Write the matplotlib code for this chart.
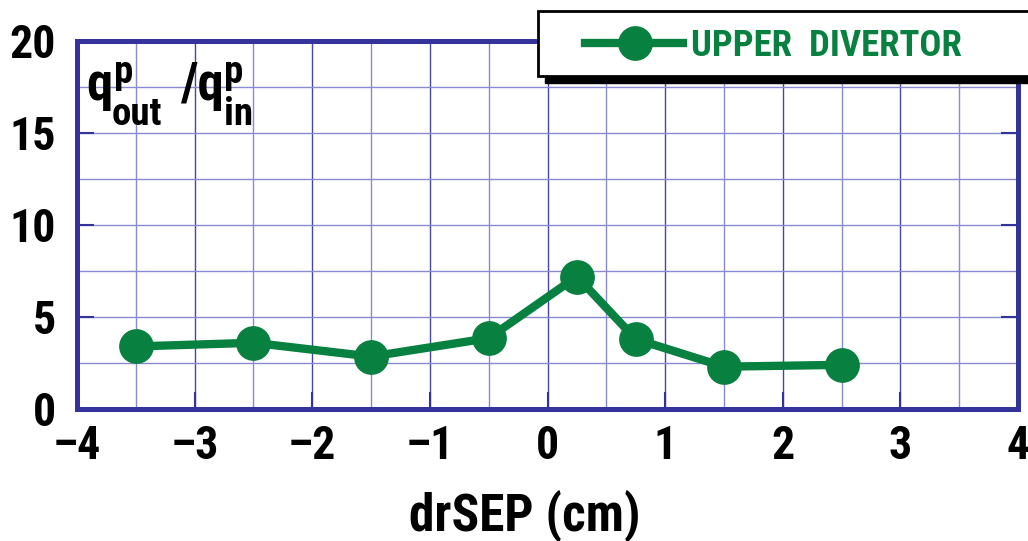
import matplotlib
matplotlib.use("Agg")
import matplotlib.pyplot as plt
from matplotlib.patches import Rectangle
from matplotlib.lines import Line2D

plt.rcParams['font.family'] = ['Roboto Condensed', 'DejaVu Sans']
plt.rcParams['font.stretch'] = 'condensed'
plt.rcParams['font.weight'] = 'bold'

# data
dr_sep = [-3.5, -2.5, -1.5, -0.5, 0.25, 0.75, 1.5, 2.5]
q_ratio = [3.4, 3.6, 2.85, 3.85, 7.2, 3.8, 2.3, 2.4]
x_ticks = [-4, -3, -2, -1, 0, 1, 2, 3, 4]
y_ticks = [0, 5, 10, 15, 20]
series_name = "UPPER  DIVERTOR"

green = '#078040'
navy = '#333399'
W, H = 1028.0, 541.0

fig = plt.figure(figsize=(10.28, 5.41), dpi=100)
ax = fig.add_axes([77 / W, 132 / H, 941 / W, 368 / H])

# grid: darker at whole cm, lighter at half cm
for x in [v / 2 for v in range(-8, 9)]:
    c = '#4646a8' if x == int(x) else '#8a8ad0'
    ax.axvline(x, color=c, lw=1.0, zorder=1)
for y in [v * 2.5 for v in range(9)]:
    ax.axhline(y, color='#8a8ad0', lw=1.0, zorder=1)

ax.plot(dr_sep, q_ratio, color=green, lw=6, marker='o', ms=24, zorder=3, clip_on=False)

ax.set_xlim(-4, 4)
ax.set_ylim(0, 20)
ax.set_xticks(x_ticks)
ax.set_yticks(y_ticks)
ax.set_xticklabels(['\u2013%d' % -v if v < 0 else '%d' % v for v in x_ticks])
ax.tick_params(axis='both', direction='in', length=12, width=1.5, color=navy, labelsize=33)
ax.tick_params(axis='x', pad=11)
ax.tick_params(axis='y', right=True, pad=15)

for s in ax.spines.values():
    s.set_color(navy)
    s.set_linewidth(3.6)

fig.text(525 / W, (H - 530) / H, 'drSEP (cm)', fontsize=37, ha='center', va='baseline')

# y label q^p_out / q^p_in, placed piece by piece
def put(px, py, s, size):
    fig.text(px / W, (H - py) / H, s, fontsize=size, ha='left', va='baseline', zorder=4)

put(86, 100, 'q', 38)
put(114, 83, 'p', 28)
put(112, 125, 'out', 28)
put(180, 100, '/q', 38)
put(224, 83, 'p', 28)
put(224, 125, 'in', 28)

# legend box with shadow, running off the right edge
bx, by, bw, bh = 538 / W, (H - 76) / H, 520 / W, 65 / H
fig.patches.append(Rectangle((bx + 7 / W, by - 7 / H), bw, bh, transform=fig.transFigure,
                             facecolor='black', edgecolor='black', zorder=5))
fig.patches.append(Rectangle((bx, by), bw, bh, transform=fig.transFigure,
                             facecolor='white', edgecolor='black', lw=2.0, zorder=6))
ly = (H - 43) / H
fig.lines.append(Line2D([585 / W, 683 / W], [ly, ly], transform=fig.transFigure,
                        color=green, lw=6, zorder=7))
fig.lines.append(Line2D([635 / W], [ly], transform=fig.transFigure, color=green,
                        marker='o', ms=24, zorder=8))
fig.text(691 / W, (H - 56) / H, series_name, color=green, fontsize=26.5,
         va='baseline', ha='left', zorder=9)

fig.savefig('out.png', dpi=100)
